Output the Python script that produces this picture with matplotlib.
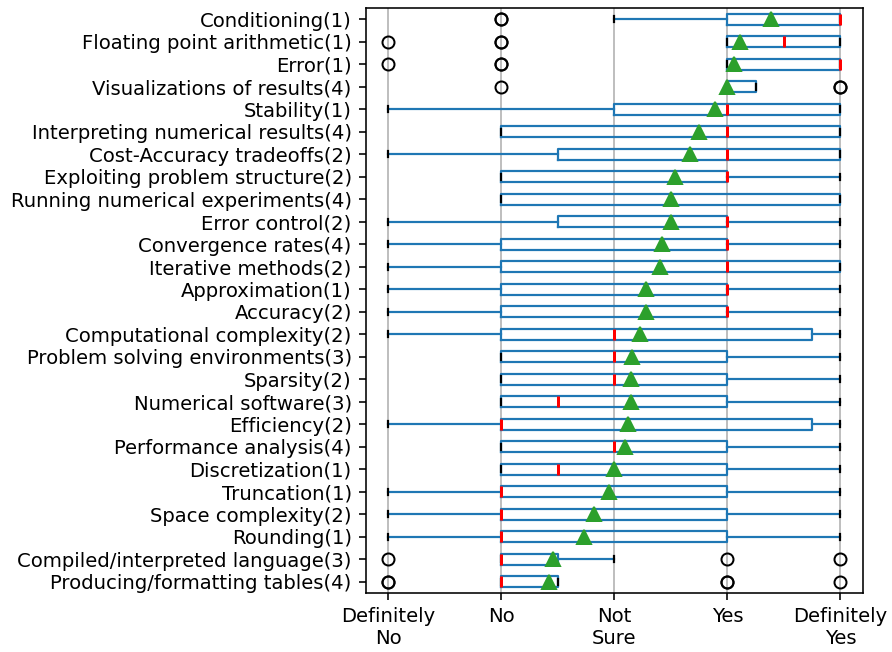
import matplotlib
matplotlib.use("Agg")
import matplotlib.pyplot as plt

# Categories listed top to bottom as shown in the chart
labels = [
    "Conditioning(1)", "Floating point arithmetic(1)", "Error(1)",
    "Visualizations of results(4)", "Stability(1)",
    "Interpreting numerical results(4)", "Cost-Accuracy tradeoffs(2)",
    "Exploiting problem structure(2)", "Running numerical experiments(4)",
    "Error control(2)", "Convergence rates(4)", "Iterative methods(2)",
    "Approximation(1)", "Accuracy(2)", "Computational complexity(2)",
    "Problem solving environments(3)", "Sparsity(2)", "Numerical software(3)",
    "Efficiency(2)", "Performance analysis(4)", "Discretization(1)",
    "Truncation(1)", "Space complexity(2)", "Rounding(1)",
    "Compiled/interpreted language(3)", "Producing/formatting tables(4)",
]
means = [4.39, 4.11, 4.06, 4.00, 3.89, 3.75, 3.67, 3.54, 3.50, 3.50, 3.42,
         3.40, 3.28, 3.28, 3.23, 3.16, 3.15, 3.15, 3.12, 3.09, 3.00, 2.95,
         2.82, 2.73, 2.46, 2.42]
q1 = [4, 4, 4, 4, 3, 2, 2.5, 2, 2, 2.5, 2, 2, 2, 2, 2, 2, 2, 2, 2, 2, 2, 2,
      2, 2, 2, 2]
med = [5, 4.5, 5, 4, 4, 4, 4, 4, 3.5, 4, 4, 4, 4, 4, 3, 3, 3, 2.5, 2, 3, 2.5,
       2, 2, 2, 2, 2]
q3 = [5, 5, 5, 4.25, 5, 5, 5, 4, 5, 4, 4, 5, 4, 4, 4.75, 4, 4, 4, 4.75, 4, 4,
      4, 4, 4, 2.5, 2.5]
whislo = [3, 4, 4, 4, 1, 2, 1, 2, 2, 1, 1, 1, 1, 1, 1, 2, 2, 2, 1, 2, 2, 1,
          1, 1, 2, 2]
whishi = [5, 5, 5, 4.25, 5, 5, 5, 5, 5, 5, 5, 5, 5, 5, 5, 5, 5, 5, 5, 5, 5, 5,
          5, 5, 3, 2.5]
fliers = [[2, 2], [1, 2, 2], [1, 2, 2], [2, 5, 5], [], [], [], [], [], [], [],
          [], [], [], [], [], [], [], [], [], [], [], [], [], [1, 4, 5],
          [1, 1, 4, 4, 5]]
xtick_vals = [1, 2, 3, 4, 5]
xtick_labels = ["Definitely\nNo", "No", "Not\nSure", "Yes", "Definitely\nYes"]

DPI = 144
fig = plt.figure(figsize=(892 / DPI, 652 / DPI), dpi=DPI)
ax = fig.add_subplot(111)
fig.subplots_adjust(left=0.410, right=0.9675, bottom=0.0905, top=0.9877)

# bottom-to-top order for positions 1..n
stats = []
n = len(labels)
for i in range(n - 1, -1, -1):
    stats.append(dict(label=labels[i], mean=means[i], q1=q1[i], med=med[i],
                      q3=q3[i], whislo=whislo[i], whishi=whishi[i],
                      fliers=fliers[i]))

ax.bxp(stats, positions=list(range(1, n + 1)), widths=0.5,
       orientation="horizontal", showmeans=True,
       boxprops=dict(color="#1f77b4", linewidth=1.1),
       whiskerprops=dict(color="#1f77b4", linewidth=1.1),
       capprops=dict(color="black", linewidth=1.1),
       medianprops=dict(color="red", linewidth=1.5),
       meanprops=dict(marker="^", markerfacecolor="#2ca02c",
                      markeredgecolor="#2ca02c", markersize=7),
       flierprops=dict(marker="o", markerfacecolor="none",
                       markeredgecolor="black", markersize=6))

ax.set_xticks(xtick_vals)
ax.set_xticklabels(xtick_labels)
ax.set_yticks(list(range(1, n + 1)))
ax.set_yticklabels(labels[::-1])
ax.xaxis.grid(True, color="#b0b0b0", linewidth=0.8)
ax.set_axisbelow(True)
ax.tick_params(labelsize=9.8)

fig.savefig("out.png", dpi=DPI)
